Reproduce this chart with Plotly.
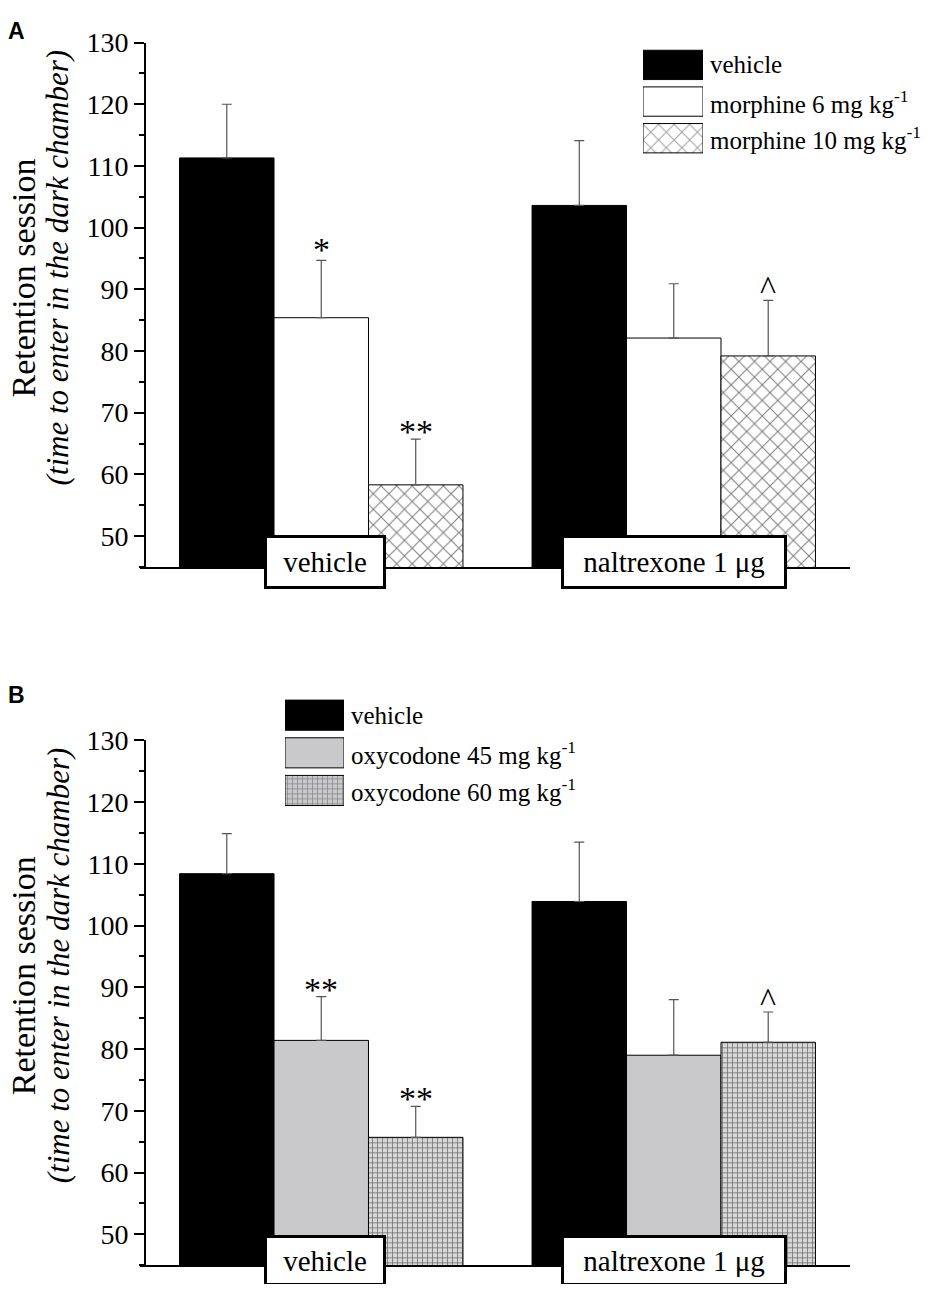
import plotly.graph_objects as go

groups = ["vehicle", "naltrexone 1 μg"]

# panel A - morphine
names_a = ["vehicle", "morphine 6 mg kg<sup>-1</sup>", "morphine 10 mg kg<sup>-1</sup>"]
vehicle_a = [111.3, 103.6]
morphine6 = [85.4, 82.1]
morphine10 = [58.3, 79.2]
vehicle_a_err = [8.7, 10.5]
morphine6_err = [9.3, 8.8]
morphine10_err = [7.4, 9.0]
signif_a = [["", ""], ["*", ""], ["**", "^"]]

# panel B - oxycodone
names_b = ["vehicle", "oxycodone 45 mg kg<sup>-1</sup>", "oxycodone 60 mg kg<sup>-1</sup>"]
vehicle_b = [108.4, 103.9]
oxy45 = [81.4, 79.0]
oxy60 = [65.7, 81.1]
vehicle_b_err = [6.5, 9.6]
oxy45_err = [7.1, 9.0]
oxy60_err = [5.0, 4.9]
signif_b = [["", ""], ["**", ""], ["**", "^"]]

SERIF = "Liberation Serif, Times New Roman, serif"
GRAY = "#c9c9cb"
bargap = 0.196

# page has an 8px body margin, so the figure is drawn a bit smaller
W, H = 920, 1276


def px(x):
    return (x - 8) / W


def py(y):
    # reference pixel row -> paper fraction (page offset / squeeze measured on render)
    fy = (y - 15.5) / 0.9886 - 8
    return 1 - fy / H


# (fill colour, pattern shape, pattern bg)
styles_a = [("black", "", "black"), ("white", "", "white"), ("white", "x", "white")]
styles_b = [("black", "", "black"), (GRAY, "", GRAY), (GRAY, "+", "#d8d8d8")]


def pat(shapes, bgs):
    return dict(shape=shapes, fgcolor="black", bgcolor=bgs,
                size=[11 if s == "x" else 5 for s in shapes],
                solidity=[0.18 if s == "x" else 0.28 for s in shapes])


fig = go.Figure()


def add_panel(fig, vals, errs, styles, xa, ya):
    for v, e, (col, shp, bg) in zip(vals, errs, styles):
        fig.add_trace(go.Bar(
            x=groups, y=v, base=0, xaxis=xa, yaxis=ya, showlegend=False,
            marker=dict(color=col, line=dict(color="black", width=1),
                        pattern=pat([shp] * len(v), [bg] * len(v))),
            error_y=dict(type="data", array=e, arrayminus=[0] * len(e), symmetric=False,
                         color="#555555", thickness=1.2, width=5),
        ))


def add_legend(fig, names, styles, xa, ya):
    fig.add_trace(go.Bar(
        x=[1, 1, 1], y=[0, 1, 2], orientation="h", width=0.8,
        xaxis=xa, yaxis=ya, showlegend=False, hoverinfo="skip",
        marker=dict(color=[s[0] for s in styles], line=dict(color="black", width=1),
                    pattern=pat([s[1] for s in styles], [s[2] for s in styles])),
    ))
    for i, n in enumerate(names):
        fig.add_annotation(text=n, x=1, y=i, xref=xa, yref=ya, xanchor="left",
                           yanchor="middle", xshift=5, showarrow=False,
                           font=dict(family=SERIF, size=25, color="black"))


add_panel(fig, [vehicle_a, morphine6, morphine10],
          [vehicle_a_err, morphine6_err, morphine10_err], styles_a, "x", "y")
add_panel(fig, [vehicle_b, oxy45, oxy60],
          [vehicle_b_err, oxy45_err, oxy60_err], styles_b, "x2", "y2")
add_legend(fig, names_a, styles_a, "x3", "y3")
add_legend(fig, names_b, styles_b, "x4", "y4")

# significance marks
w = (1 - bargap) / 3
shifts = {"*": -10, "**": -13, "^": -8}
for xa, ya, vals, errs, marks in [
    ("x", "y", [vehicle_a, morphine6, morphine10],
     [vehicle_a_err, morphine6_err, morphine10_err], signif_a),
    ("x2", "y2", [vehicle_b, oxy45, oxy60],
     [vehicle_b_err, oxy45_err, oxy60_err], signif_b),
]:
    for j in range(3):
        for g in range(2):
            m = marks[j][g]
            if not m:
                continue
            fig.add_annotation(text=m, x=g + (j - 1) * w, y=vals[j][g] + errs[j][g],
                               xref=xa, yref=ya, yanchor="bottom", showarrow=False,
                               yshift=shifts[m],
                               font=dict(family=SERIF, size=34, color="black"))

# group label boxes
for xa, ya, ys, hh in [("x", "y", 5, 36), ("x2", "y2", 5, 33)]:
    for g, lab in enumerate(groups):
        fig.add_annotation(text=lab, x=g, y=45, xref=xa, yref=ya, xanchor="center",
                           yanchor="middle", yshift=ys, xshift=4 if g == 0 else 0,
                           showarrow=False, bgcolor="white", bordercolor="black",
                           borderwidth=3, borderpad=6,
                           width=104 if g == 0 else 208, height=hh,
                           font=dict(family=SERIF, size=29, color="black"))

# y titles and panel letters
for dy in [0, 698]:
    fig.add_annotation(text="Retention session", x=px(23), y=py(279 + dy),
                       xref="paper", yref="paper", textangle=-90, showarrow=False,
                       xanchor="center", yanchor="middle",
                       font=dict(family=SERIF, size=34, color="black"))
    fig.add_annotation(text="<i>(time to enter in the dark chamber)</i>", x=px(58),
                       y=py(268 + dy), xref="paper", yref="paper", textangle=-90,
                       showarrow=False, xanchor="center", yanchor="middle",
                       font=dict(family=SERIF, size=31, color="black"))
for lab, ytop in [("A", 1.0), ("B", py(688))]:
    fig.add_annotation(text="<b>%s</b>" % lab, x=0.0, y=ytop, xref="paper", yref="paper",
                       xanchor="left", yanchor="top", yshift=7, xshift=-2,
                       showarrow=False,
                       font=dict(family="Liberation Sans, Arial, sans-serif", size=23,
                                 color="black"))

# x axis line starts a little left of the y axis, as in the original
xdom = [px(140), px(850)]
xcommon = dict(domain=xdom, range=[-0.5 - 5 / 352.5, 1.5], showticklabels=False, ticks="",
               showline=True, linecolor="black", linewidth=2, showgrid=False,
               zeroline=False)
ycommon = dict(range=[45, 130], tick0=50, dtick=10, ticks="outside", ticklen=10,
               tickwidth=1.5, tickcolor="black", showline=True, linecolor="black",
               linewidth=2, showgrid=False, zeroline=False, anchor="free",
               position=px(145),
               minor=dict(dtick=5, tick0=45, ticks="outside", ticklen=5, tickcolor="black",
                          tickwidth=1.5),
               tickfont=dict(family=SERIF, size=28, color="black"))

fig.update_layout(
    width=W, height=H,
    margin=dict(l=0, r=0, t=0, b=0),
    paper_bgcolor="white", plot_bgcolor="white",
    barmode="group", bargap=bargap, bargroupgap=0,
    xaxis=dict(**xcommon, anchor="y"),
    yaxis=dict(**ycommon, domain=[py(567.5), py(43)]),
    xaxis2=dict(**xcommon, anchor="y2"),
    yaxis2=dict(**ycommon, domain=[py(1266), py(741)]),
    xaxis3=dict(domain=[px(643), px(703)], range=[0, 1], visible=False, anchor="y3"),
    yaxis3=dict(domain=[py(157), py(47)], range=[2.5, -0.5], visible=False, anchor="x3"),
    xaxis4=dict(domain=[px(285), px(344)], range=[0, 1], visible=False, anchor="y4"),
    yaxis4=dict(domain=[py(810), py(697)], range=[2.5, -0.5], visible=False, anchor="x4"),
)

fig.write_html("out.html")
